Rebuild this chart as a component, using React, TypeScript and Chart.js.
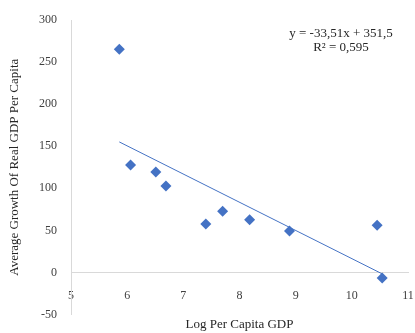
import React, { useEffect, useRef } from 'react';
import { Chart, registerables } from 'chart.js';

Chart.register(...registerables);

// Data
const logGdp = [5.86, 6.06, 6.51, 6.69, 7.4, 7.7, 8.18, 8.89, 10.45, 10.54];
const avgGrowth = [265.3, 127.7, 119.4, 102.8, 57.7, 72.8, 62.5, 49.1, 56.2, -6.6];

// Linear trend line end points (as drawn in the picture)
const trendX = [5.86, 10.54];
const trendY = [155.1, -1.7];

const equationLines = ['y = -33,51x + 351,5', 'R² = 0,595'];
const xTitle = 'Log Per Capita GDP';
const yTitle = 'Average Growth Of Real GDP Per Capita';

const xRange = [5, 11];
const xStep = 1;
const yRange = [-50, 300];
const yStep = 50;

const FONT = '"Liberation Serif", "Times New Roman", serif';
const BLUE = '#4472C4';

const equationPlugin = {
  id: 'equationLabel',
  afterDatasetsDraw(chart: any) {
    const { ctx, chartArea } = chart;
    ctx.save();
    ctx.font = `13px ${FONT}`;
    ctx.fillStyle = '#262626';
    ctx.textAlign = 'center';
    ctx.textBaseline = 'middle';
    const cx = chartArea.right - 67;
    equationLines.forEach((t, i) => {
      ctx.fillText(t, cx, chartArea.top + 14 + i * 14);
    });
    ctx.restore();
  },
};

export default function App() {
  const canvasRef = useRef<HTMLCanvasElement | null>(null);

  useEffect(() => {
    if (!canvasRef.current) return;
    const points = logGdp.map((x, i) => ({ x, y: avgGrowth[i] }));
    const trend = trendX.map((x, i) => ({ x, y: trendY[i] }));

    const chart = new Chart(canvasRef.current, {
      type: 'scatter',
      data: {
        datasets: [
          {
            data: trend,
            showLine: true,
            pointRadius: 0,
            borderColor: BLUE,
            borderWidth: 1,
            order: 2,
          } as any,
          {
            data: points,
            pointStyle: 'rectRot',
            pointRadius: 5.5,
            pointHoverRadius: 5.5,
            backgroundColor: BLUE,
            borderColor: BLUE,
            borderWidth: 0,
            order: 1,
          } as any,
        ],
      },
      options: {
        animation: false,
        responsive: false,
        layout: { padding: { top: 20, right: 7, bottom: 0, left: 0 } },
        plugins: {
          legend: { display: false },
          tooltip: { enabled: false },
          title: {
            display: true,
            position: 'bottom',
            fullSize: false,
            text: xTitle,
            color: '#262626',
            font: { family: FONT, size: 13, weight: 'normal' },
            padding: { top: 2.7, bottom: 0.2 },
          },
        },
        scales: {
          x: {
            type: 'linear',
            position: { y: 0 } as any,
            min: xRange[0],
            max: xRange[1],
            grid: { display: false, drawTicks: true, tickLength: 16 },
            border: { display: true, color: '#d9d9d9', width: 1 },
            ticks: {
              stepSize: xStep,
              padding: 0,
              color: '#404040',
              font: { family: FONT, size: 12 },
              maxRotation: 0,
            },
          },
          y: {
            type: 'linear',
            position: 'left',
            min: yRange[0],
            max: yRange[1],
            grid: { display: false, drawTicks: true, tickLength: 14 },
            border: { display: true, color: '#d9d9d9', width: 1 },
            ticks: {
              stepSize: yStep,
              padding: 0,
              color: '#404040',
              font: { family: FONT, size: 12 },
            },
            title: {
              display: true,
              text: yTitle,
              color: '#262626',
              font: { family: FONT, size: 13, weight: 'normal' },
              padding: { top: 7, bottom: 16.4 },
            },
          },
        },
      },
      plugins: [equationPlugin],
    });
    return () => chart.destroy();
  }, []);

  return (
    <div style={{ position: 'absolute', left: 0, top: 0, width: 415, height: 333, background: '#fff' }}>
      <canvas ref={canvasRef} width={415} height={333} style={{ display: 'block' }} />
    </div>
  );
}
